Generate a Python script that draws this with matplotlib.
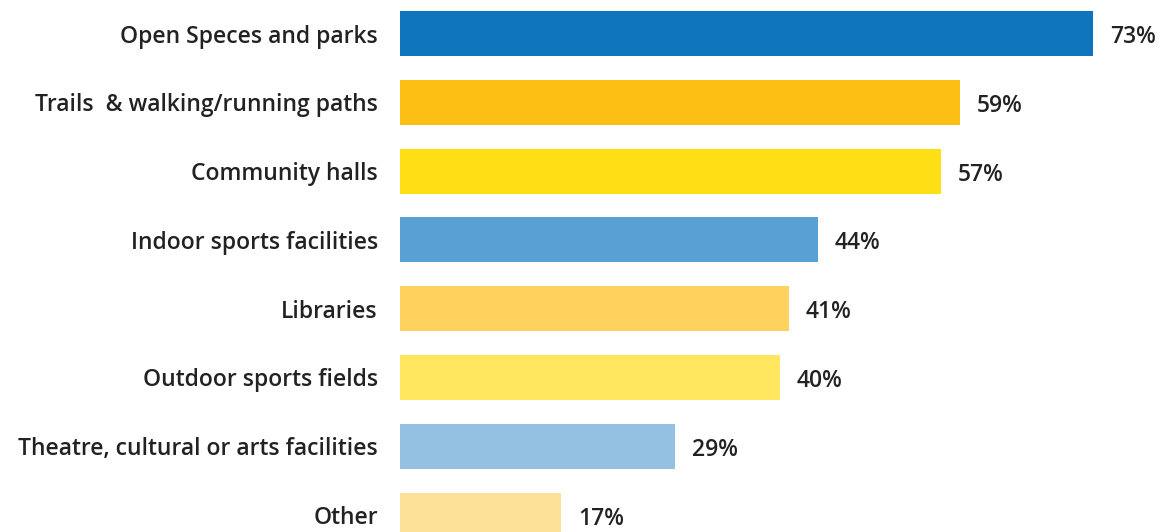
import matplotlib.pyplot as plt

categories = [
    "Open Speces and parks",
    "Trails  & walking/running paths",
    "Community halls",
    "Indoor sports facilities",
    "Libraries",
    "Outdoor sports fields",
    "Theatre, cultural or arts facilities",
    "Other",
]
values = [73, 59, 57, 44, 41, 40, 29, 17]
colors = ["#0F76BD", "#FDBF13", "#FEDF15", "#59A1D4", "#FFD15D",
          "#FFE65E", "#94C1E1", "#FEE198"]

plt.rcParams['font.family'] = ['Open Sans', 'DejaVu Sans']

fig = plt.figure(figsize=(11.73, 5.32), dpi=100)
ax = fig.add_axes([400 / 1173, 0, 773 / 1173, 1])

pos = list(range(len(categories)))
ax.barh(pos, values, height=0.654, color=colors)

for y, v in zip(pos, values):
    ax.annotate(f"{v}%", (v, y), xytext=(12, -2.5), textcoords="offset points",
                va="center", ha="left", fontsize=16.5, fontweight="semibold",
                color="#222222")

ax.set_xlim(0, 81.4)
ax.set_ylim(7.246, -0.487)
ax.set_yticks(pos)
ax.set_yticklabels(categories, fontsize=16.5, fontweight="semibold", color="#222222")
ax.tick_params(axis="y", length=0, pad=16)
ax.set_xticks([])
for s in ax.spines.values():
    s.set_visible(False)

fig.savefig("out.png", dpi=100)
